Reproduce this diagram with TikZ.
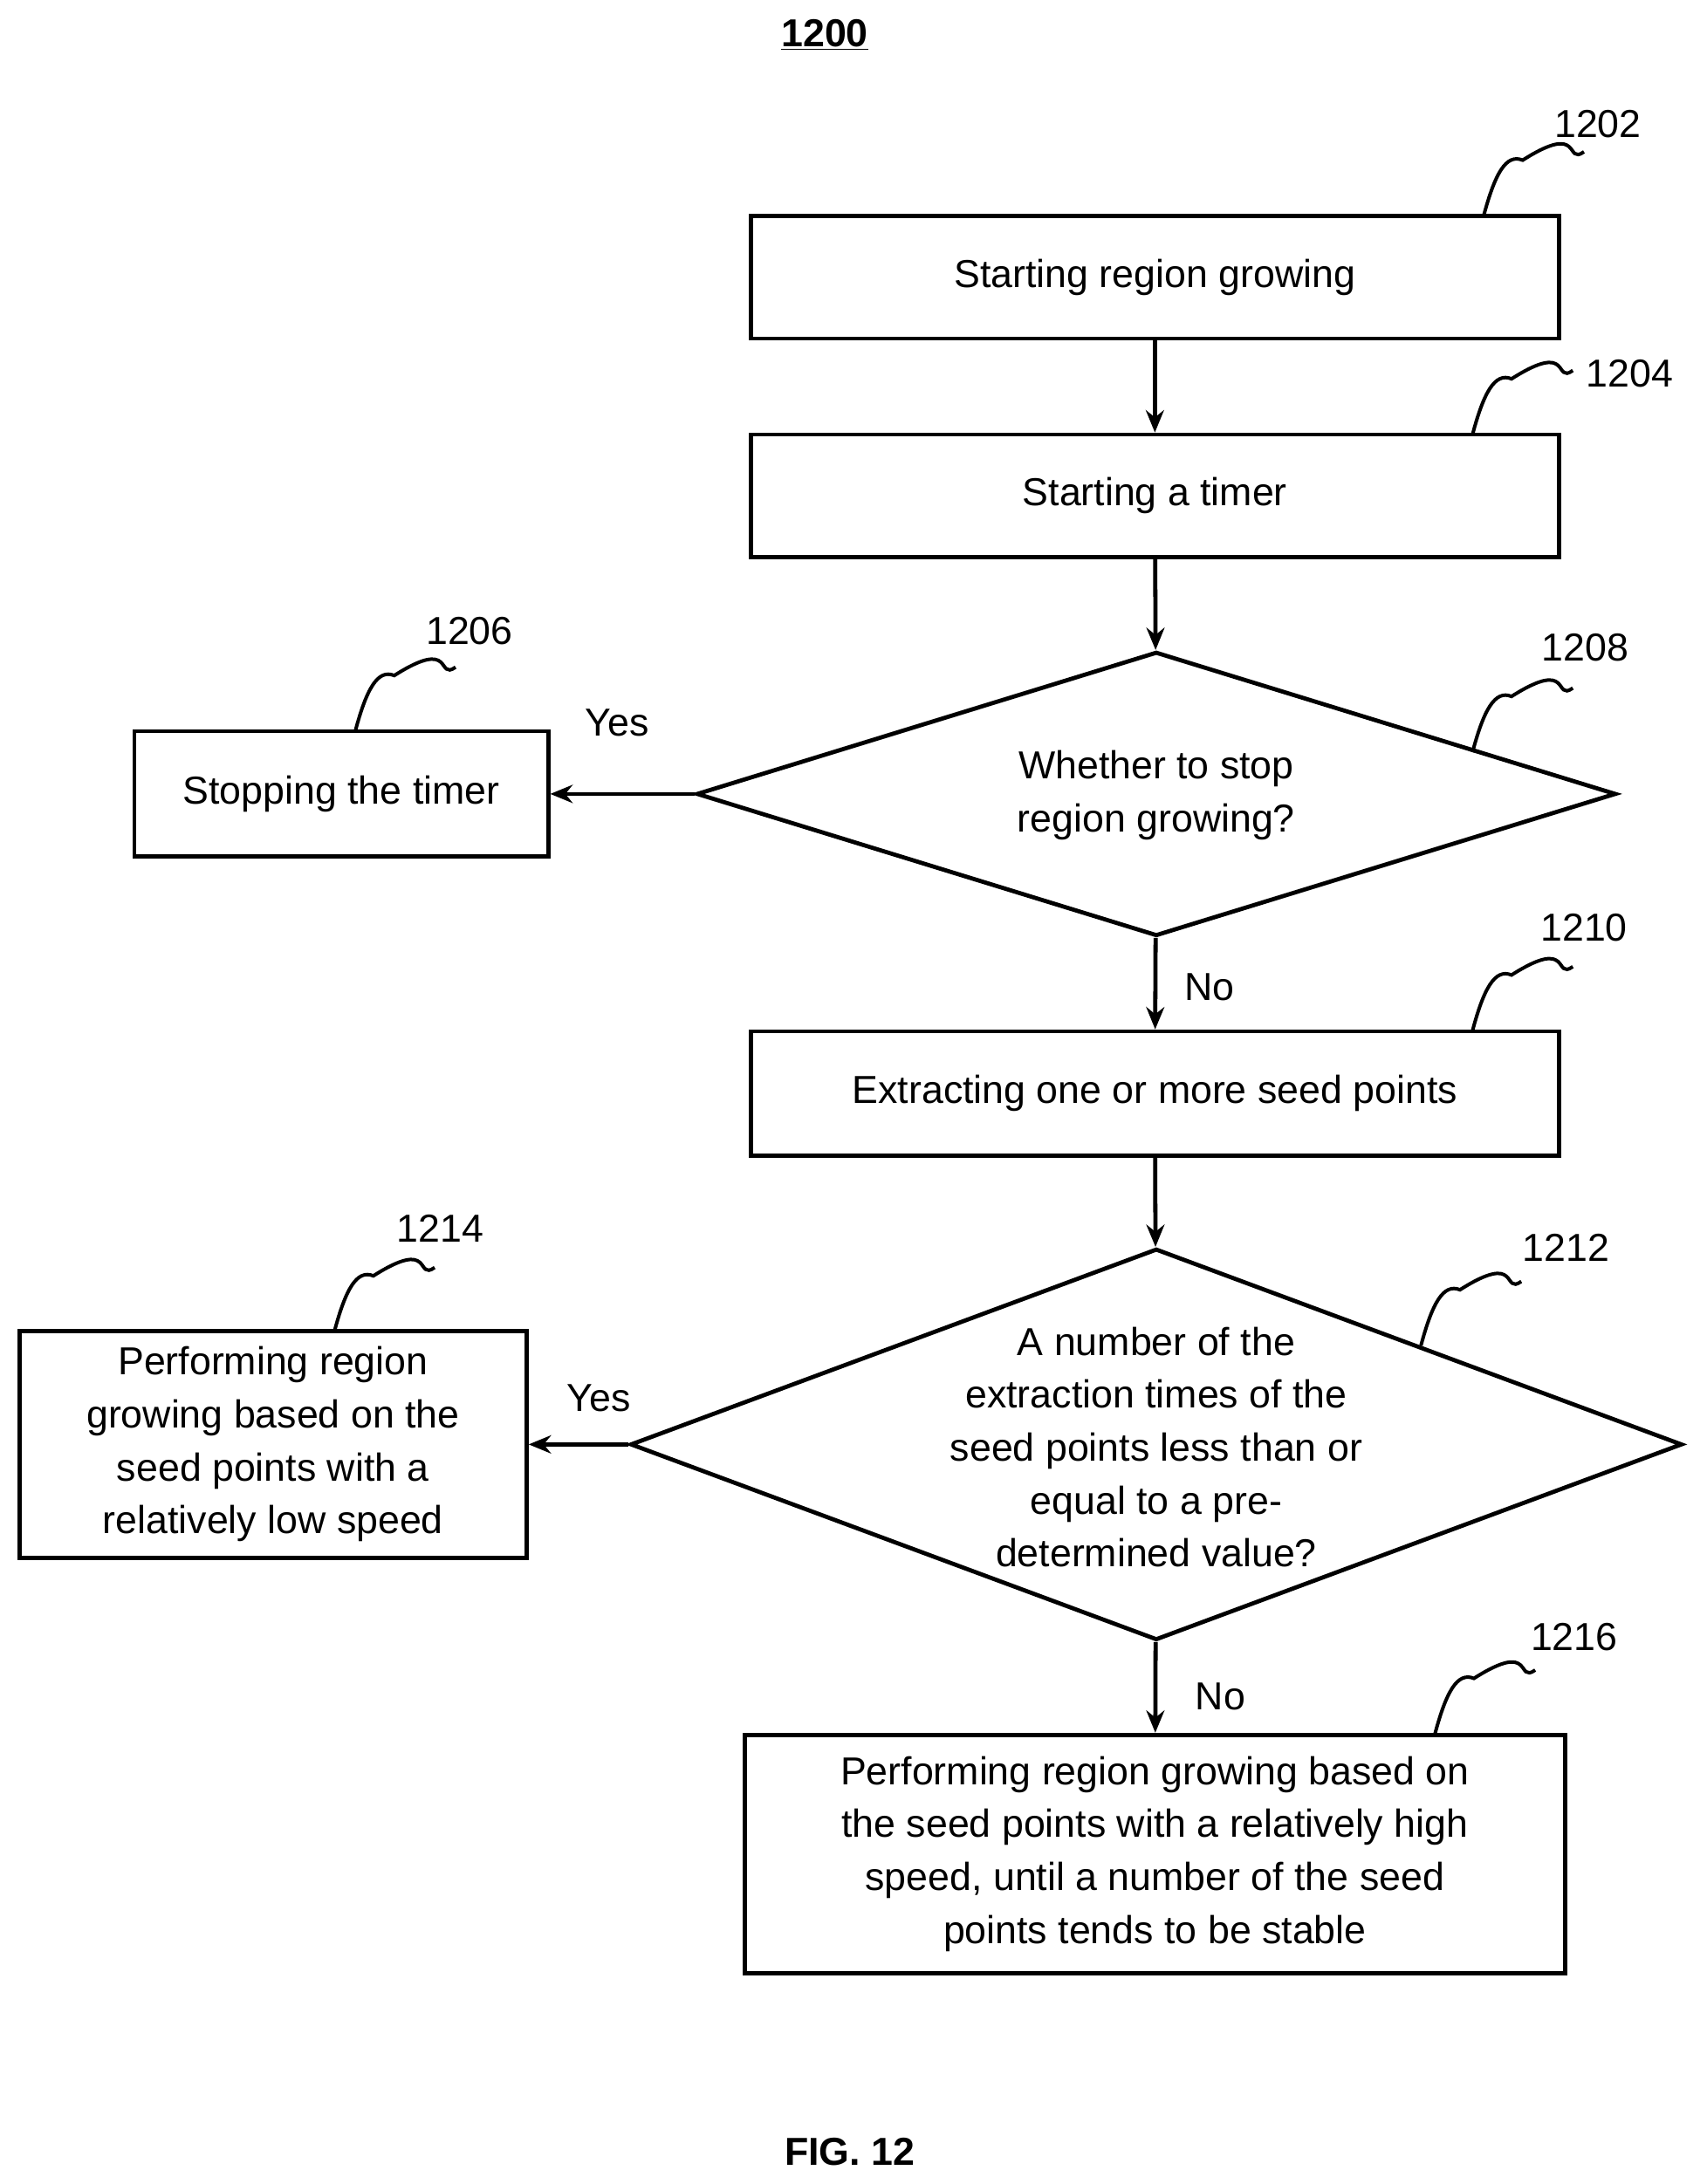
\documentclass[tikz,border=0pt]{standalone}
\usepackage{fontspec}
\setmainfont{Liberation Sans}
\usetikzlibrary{shapes.geometric,arrows.meta}
\begin{document}
\begin{tikzpicture}[x=1pt,y=-1pt,
  every node/.style={font=\fontsize{28}{38}\selectfont},
  box/.style={draw,line width=3pt,inner sep=0pt,align=center},
  dia/.style={draw,diamond,line width=3pt,inner sep=0pt},
  arr/.style={line width=3pt,-{Stealth[length=16pt,width=13pt]}},
  sq/.style={line width=2.5pt}]
\useasboundingbox (0,0) rectangle (1225,1568);
\node[font=\bfseries\fontsize{28}{34}\selectfont] (t) at (592,25) {\underline{1200}};
\node[box,minimum width=580,minimum height=88] (b1202) at (829,199) {Starting region growing};
\node[box,minimum width=580,minimum height=88] (b1204) at (829,356) {Starting a timer};
\node[dia,minimum width=660,minimum height=204] (d1208) at (830,570) {};
\node[align=center] (t1208) at (830,571) {Whether to stop\\region growing?};
\node[box,minimum width=297,minimum height=90] (b1206) at (245,570) {Stopping the timer};
\node[box,minimum width=580,minimum height=89] (b1210) at (829,785) {Extracting one or more seed points};
\node[dia,minimum width=755,minimum height=281] (d1212) at (830,1037) {};
\node[align=center] (t1212) at (830,1039) {A number of the\\extraction times of the\\seed points less than or\\equal to a pre-\\determined value?};
\node[box,minimum width=364,minimum height=163] (b1214) at (196,1037) {Performing region\\growing based on the\\seed points with a\\relatively low speed};
\node[box,minimum width=589,minimum height=171] (b1216) at (829,1331) {Performing region growing based on\\the seed points with a relatively high\\speed, until a number of the seed\\points tends to be stable};
\node[font=\bfseries\fontsize{28}{34}\selectfont] (fig) at (610,1545) {FIG. 12};
\draw[arr] (b1202) -- (b1204);
\draw[arr] (b1204) -- (d1208);
\draw[arr] (d1208) -- (b1206);
\draw[arr] (d1208) -- (b1210);
\draw[arr] (b1210) -- (d1212);
\draw[arr] (d1212) -- (b1214);
\draw[arr] (d1212) -- (b1216);
\node (y1) at (443,519) {Yes};
\node (n1) at (868,709) {No};
\node (y2) at (430,1004) {Yes};
\node (n2) at (876,1218) {No};
\def\sqg(#1,#2){\draw[sq] (#1,#2) .. controls +(8,-30) and +(-12,-5) .. +(28,-40) .. controls +(44,-28) and +(-14,10) .. +(72,-46);}
\sqg(1065,155) \node (l1202) at (1147,89) {1202};
\sqg(1057,312) \node (l1204) at (1170,268) {1204};
\sqg(255,525) \node (l1206) at (337,453) {1206};
\sqg(1057,540) \node (l1208) at (1138,465) {1208};
\sqg(1057,740) \node (l1210) at (1137,666) {1210};
\sqg(1020,966) \node (l1212) at (1124,896) {1212};
\sqg(240,956) \node (l1214) at (316,882) {1214};
\sqg(1030,1245) \node (l1216) at (1130,1175) {1216};
\end{tikzpicture}
\end{document}
